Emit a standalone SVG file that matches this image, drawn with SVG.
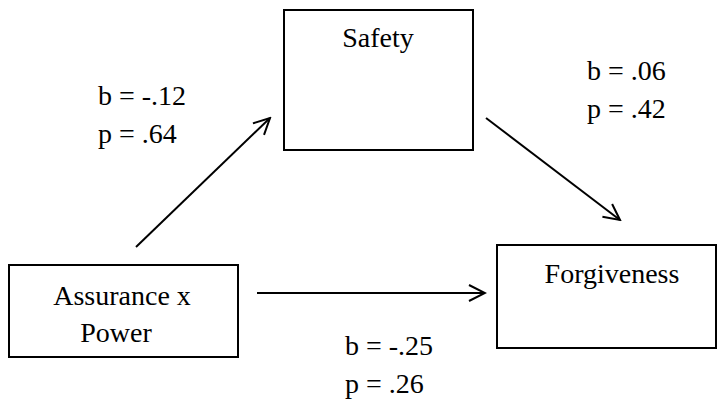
<svg xmlns="http://www.w3.org/2000/svg" width="718" height="405" viewBox="0 0 718 405">
<style>
.box{fill:#fff;stroke:#000;stroke-width:2}
.t{font-family:'Liberation Serif','Times New Roman',Times,serif;font-size:28px;fill:#000}
.c{text-anchor:middle}
.ln{stroke:#000;stroke-width:2;fill:none}
</style>
<defs>
<marker id="ah" viewBox="0 0 20 20" refX="18" refY="10" markerWidth="20" markerHeight="20" markerUnits="userSpaceOnUse" orient="auto">
<path d="M2,2 L18,10 L2,18" fill="none" stroke="#000" stroke-width="2"/>
</marker>
</defs>
<rect width="718" height="405" fill="#fff"/>
<g id="safety">
<rect class="box" x="284" y="10" width="189" height="140"/>
<text class="t c" font-family="Liberation Serif, serif" x="378" y="47">Safety</text>
</g>
<g id="assurance">
<rect class="box" x="9" y="265" width="229" height="92"/>
<text class="t c" font-family="Liberation Serif, serif" x="122" y="305">Assurance x</text>
<text class="t c" font-family="Liberation Serif, serif" x="116" y="342">Power</text>
</g>
<g id="forgiveness">
<rect class="box" x="497" y="245" width="219" height="103"/>
<text class="t c" font-family="Liberation Serif, serif" x="612" y="283">Forgiveness</text>
</g>
<g id="connectors">
<line class="ln" x1="136" y1="247" x2="270" y2="118" marker-end="url(#ah)"/>
<line class="ln" x1="486" y1="118" x2="620" y2="220" marker-end="url(#ah)"/>
<line class="ln" x1="257" y1="293" x2="485" y2="293" marker-end="url(#ah)"/>
</g>
<g id="labels" font-family="Liberation Serif, serif">
<text class="t" x="98" y="105">b = -.12</text>
<text class="t" x="98" y="143">p = .64</text>
<text class="t" x="587" y="80">b = .06</text>
<text class="t" x="587" y="118">p = .42</text>
<text class="t" x="345" y="355">b = -.25</text>
<text class="t" x="345" y="393">p = .26</text>
</g>
</svg>
